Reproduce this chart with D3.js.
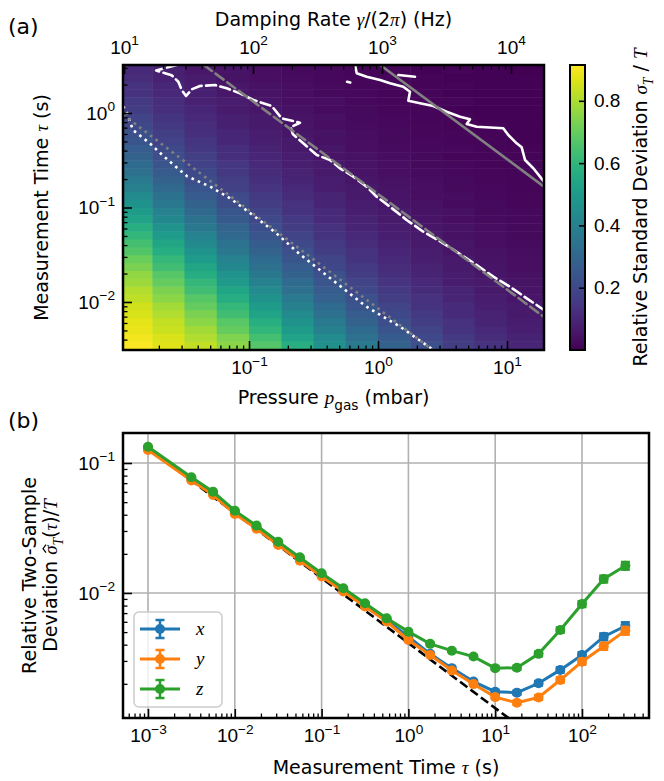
<!DOCTYPE html>
<html>
<head>
<meta charset="utf-8">
<script src="https://cdn.jsdelivr.net/npm/d3@7"></script>
<style>
body { margin: 0; background: #fff; }
svg { font-family: "DejaVu Sans", sans-serif; }
</style>
</head>
<body>
<div id="chart"></div>
<script>

// ---------------- data: panel (a) ----------------
// pressure bins (mbar) and measurement time bins (s) of the map
var pressureEdges = [0.01, 0.0178, 0.0316, 0.0562, 0.1, 0.178, 0.316, 0.562, 1, 1.78, 3.16, 5.62, 10, 20];
var tauEdges = [0.003162, 0.003831, 0.004642, 0.005623, 0.006813, 0.008254, 0.01, 0.01212, 0.01468,
    0.01778, 0.02154, 0.0261, 0.03162, 0.03831, 0.04642, 0.05623, 0.06813, 0.08254, 0.1, 0.1212,
    0.1468, 0.1778, 0.2154, 0.261, 0.3162, 0.3831, 0.4642, 0.5623, 0.6813, 0.8254, 1, 1.212, 1.468,
    1.778, 2.154, 2.61, 3.162];

// relative standard deviation, one row per pressure bin, short tau -> long tau
var relStd = [
    [.908,.899,.884,.877,.860,.848,.825,.810,.782,.763,.730,.706,.668,.642,.601,.574,.531,.503,.462,.436,.396,.372,.337,.315,.283,.265,.237,.222,.197,.185,.163,.155,.135,.129,.112,.107],
    [.872,.864,.843,.830,.805,.788,.756,.736,.699,.675,.635,.608,.566,.538,.497,.469,.428,.403,.366,.343,.309,.289,.259,.243,.216,.203,.179,.169,.149,.141,.123,.117,.101,.097,.084,.080],
    [.831,.806,.788,.757,.736,.700,.675,.636,.608,.567,.538,.497,.469,.429,.403,.366,.343,.309,.289,.259,.243,.216,.203,.179,.169,.149,.141,.123,.117,.101,.097,.084,.080,.069,.067,.057],
    [.755,.738,.698,.677,.634,.610,.565,.540,.495,.471,.427,.405,.364,.345,.307,.291,.257,.245,.214,.205,.177,.171,.147,.143,.121,.119,.099,.099,.082,.082,.067,.069,.055,.057,.045,.048],
    [.670,.642,.603,.573,.532,.502,.463,.435,.397,.371,.338,.315,.284,.264,.238,.221,.198,.184,.164,.154,.136,.128,.112,.106,.093,.088,.076,.073,.063,.061,.051,.050,.043,.041,.035,.034],
    [.574,.531,.503,.462,.436,.396,.372,.337,.315,.283,.265,.237,.222,.197,.185,.163,.155,.135,.129,.112,.107,.092,.089,.076,.073,.063,.061,.051,.050,.043,.041,.035,.034,.029,.028,.024],
    [.461,.437,.395,.373,.336,.317,.282,.266,.236,.223,.196,.186,.162,.156,.134,.130,.110,.108,.091,.090,.074,.075,.061,.063,.049,.052,.041,.043,.033,.036,.027,.030,.022,.025,.018,.021],
    [.372,.337,.315,.283,.265,.237,.222,.197,.185,.163,.155,.135,.129,.112,.107,.092,.089,.076,.073,.063,.061,.051,.050,.043,.041,.035,.034,.029,.028,.024,.023,.020,.019,.016,.016,.013],
    [.284,.264,.238,.221,.198,.184,.164,.154,.136,.128,.112,.106,.093,.088,.076,.073,.063,.061,.051,.050,.043,.041,.035,.034,.029,.028,.024,.023,.020,.019,.016,.016,.013,.013,.011,.011],
    [.222,.197,.185,.163,.155,.135,.129,.112,.107,.092,.089,.076,.073,.063,.061,.051,.050,.043,.041,.035,.034,.029,.028,.024,.023,.020,.019,.016,.016,.013,.013,.011,.011,.009,.009,.007],
    [.161,.157,.133,.131,.110,.109,.090,.091,.074,.075,.061,.063,.049,.052,.041,.043,.033,.036,.027,.030,.022,.025,.018,.021,.014,.018,.011,.015,.009,.013,.007,.011,.005,.009,.004,.008],
    [.129,.112,.107,.092,.089,.076,.073,.063,.061,.051,.050,.043,.041,.035,.034,.029,.028,.024,.023,.020,.019,.016,.016,.013,.013,.011,.011,.009,.009,.007,.007,.006,.006,.005,.005,.004],
    [.093,.088,.076,.073,.063,.061,.051,.050,.043,.041,.035,.034,.029,.028,.024,.023,.020,.019,.016,.016,.013,.013,.011,.011,.009,.009,.007,.007,.006,.006,.005,.005,.004,.004,.004,.003]
];

// contour lines of the map, [log10 p, log10 tau]
var contourDotted = [[-1.977,0.07],[-1.95,0.02],[-1.93,-0.06],[-1.90,-0.18],[-1.77,-0.32],[-1.66,-0.46],
    [-1.48,-0.67],[-1.30,-0.78],[-1.15,-0.90],[-0.99,-1.06],[-0.79,-1.27],[-0.61,-1.49],[-0.35,-1.77],
    [-0.09,-2.05],[0.17,-2.26],[0.39,-2.47],[0.43,-2.508]];
var contourDashed = [[-1.56,0.508],[-1.72,0.45],[-1.60,0.40],[-1.548,0.331],[-1.522,0.243],[-1.488,0.180],
    [-1.444,0.251],[-1.380,0.286],[-1.264,0.296],[-1.173,0.261],[-1.070,0.208],[-0.967,0.138],[-0.824,0.074],
    [-0.747,-0.056],[-0.605,-0.103],[-0.677,-0.151],[-0.661,-0.222],[-0.579,-0.321],[-0.475,-0.444],
    [-0.372,-0.497],[-0.295,-0.585],[-0.191,-0.674],[-0.088,-0.780],[-0.010,-0.886],[0.093,-0.992],
    [0.222,-1.132],[0.351,-1.256],[0.506,-1.379],[0.636,-1.492],[0.765,-1.608],[0.894,-1.732],
    [1.023,-1.838],[1.153,-1.961],[1.287,-2.085]];
var contourSolid = [[-0.178,0.508],[-0.165,0.420],[-0.088,0.384],[0.016,0.349],[0.093,0.314],[0.196,0.278],
    [0.248,0.225],[0.235,0.130],[0.326,0.103],[0.429,0.074],[0.532,0.014],[0.636,-0.039],[0.713,-0.067],
    [0.688,-0.116],[0.765,-0.145],[0.971,-0.162],[1.010,-0.233],[1.075,-0.321],[1.114,-0.363],
    [1.140,-0.497],[1.204,-0.585],[1.287,-0.727]];
var contourSolidBits = [
    [[-0.240,0.330],[-0.215,0.322]],
    [[0.158,0.402],[0.287,0.384]]
];

// gamma*tau = const guides, [log10 p, log10 tau]
var guideDotted = [[-1.977,-0.017],[0.424,-2.508]];
var guideDashed = [[-1.35,0.508],[1.287,-2.158]];
var guideSolid  = [[0.017,0.508],[1.287,-0.78]];

var colorbarTicks = [0.2, 0.4, 0.6, 0.8];

// ---------------- data: panel (b) ----------------
var tauB = [0.001, 0.00316, 0.00562, 0.01, 0.0178, 0.0316, 0.0562, 0.1, 0.178, 0.316, 0.562,
            1, 1.78, 3.16, 5.62, 10, 17.8, 31.6, 56.2, 100, 178, 316];
var devX = [0.1289, 0.0750, 0.0581, 0.0415, 0.0319, 0.0240, 0.0182, 0.0137, 0.01050, 0.00806, 0.00617,
            0.00461, 0.00340, 0.00264, 0.00208, 0.00174, 0.00171, 0.00202, 0.00256, 0.00333, 0.00461, 0.00557];
var devY = [0.1259, 0.0733, 0.0567, 0.0406, 0.0312, 0.0234, 0.0177, 0.0134, 0.01025, 0.00787, 0.00603,
            0.00435, 0.00333, 0.00253, 0.00199, 0.00158, 0.00143, 0.00157, 0.00214, 0.00296, 0.00389, 0.00513];
var devZ = [0.1334, 0.0776, 0.0601, 0.0430, 0.0330, 0.0248, 0.0188, 0.0142, 0.01086, 0.00834, 0.00638,
            0.00504, 0.00406, 0.00360, 0.00324, 0.00264, 0.00266, 0.00340, 0.00519, 0.00822, 0.01282, 0.01622];
// relative error of the deviation
var relErr = [0.004, 0.005, 0.005, 0.006, 0.006, 0.007, 0.008, 0.009, 0.010, 0.012, 0.014,
              0.016, 0.019, 0.022, 0.026, 0.030, 0.035, 0.040, 0.046, 0.052, 0.060, 0.068];
var fitLine = [[0.001, 0.1305], [40, 0.00065]];
var seriesNames = ["x", "y", "z"];
var seriesColors = ["#1f77b4", "#ff7f0e", "#2ca02c"];

// ---------------- setup ----------------
var W = 664, H = 781;
var FS = 19;
var MATH = "'Liberation Serif', 'DejaVu Serif', serif";

var svg = d3.select("#chart").append("svg")
    .attr("width", W).attr("height", H);
svg.append("rect").attr("width", W).attr("height", H).attr("fill", "#fff");

// write mixed text: parts = [{t, it, sub, sup}]
function richText(sel, parts, fs) {
    var shift = 0;
    parts.forEach(function(p) {
        var target = p.sub ? 0.3 * fs : (p.sup ? -0.45 * fs : 0);
        var ts = sel.append("tspan").text(p.t);
        if (target != shift) ts.attr("dy", target - shift);
        shift = target;
        if (p.sub || p.sup) ts.attr("font-size", 0.72 * fs);
        if (p.it) ts.attr("font-family", MATH).attr("font-style", "italic");
    });
    return sel;
}

function expLabel(d) {
    var e = Math.round(Math.log10(d));
    return [{t: "10"}, {t: (e < 0 ? "\u2212" : "") + Math.abs(e), sup: true}];
}

function isPow10(d) {
    var e = Math.log10(d);
    return Math.abs(e - Math.round(e)) < 1e-6;
}

// inward log axis with major labels and minor ticks
function logAxis(g, scale, which, showLabels, pad) {
    var all = scale.ticks();
    var majors = all.filter(isPow10);
    var minors = all.filter(function(d) { return !isPow10(d); });
    var maker = {bottom: d3.axisBottom, top: d3.axisTop, left: d3.axisLeft, right: d3.axisRight}[which];

    var minorAxis = maker(scale).tickValues(minors).tickSize(-4.5).tickFormat("");
    var gm = g.append("g").call(minorAxis);
    gm.select(".domain").remove();
    gm.selectAll("line").attr("stroke-width", 1.3);

    var majorAxis = maker(scale).tickValues(majors).tickSize(-9).tickPadding(pad);
    var gM = g.append("g").call(majorAxis);
    gM.select(".domain").remove();
    gM.selectAll("line").attr("stroke-width", 1.6);
    gM.selectAll("text").attr("font-size", FS).attr("fill", "#000").attr("font-family", null);
    gM.selectAll(".tick text").each(function(d) {
        var t = d3.select(this).text(null);
        if (showLabels) richText(t, expLabel(d), FS);
    });
    return g;
}

// ---------------- panel (a) ----------------
var A = {left: 123, right: 544, top: 65, bottom: 350};
var xA = d3.scaleLog().domain([Math.pow(10, -1.977), Math.pow(10, 1.287)]).range([A.left, A.right]);
var yA = d3.scaleLog().domain([Math.pow(10, -2.508), Math.pow(10, 0.508)]).range([A.bottom, A.top]);
var xTop = d3.scaleLog().domain([Math.pow(10, 0.992), Math.pow(10, 4.256)]).range([A.left, A.right]);
var colour = d3.scaleSequential(d3.interpolateViridis).domain([0, 0.915]);

svg.append("clipPath").attr("id", "clipA").append("rect")
    .attr("x", A.left).attr("y", A.top).attr("width", A.right - A.left).attr("height", A.bottom - A.top);

var gA = svg.append("g").attr("clip-path", "url(#clipA)");

// map cells
var cells = [];
relStd.forEach(function(col, j) {
    col.forEach(function(v, i) {
        cells.push({p0: pressureEdges[j], p1: pressureEdges[j + 1], t0: tauEdges[i], t1: tauEdges[i + 1], v: v});
    });
});
gA.selectAll("rect.cell").data(cells).enter().append("rect")
    .attr("class", "cell")
    .attr("x", function(d) { return xA(d.p0); })
    .attr("y", function(d) { return yA(d.t1); })
    .attr("width", function(d) { return xA(d.p1) - xA(d.p0) + 0.5; })
    .attr("height", function(d) { return yA(d.t0) - yA(d.t1) + 0.5; })
    .attr("fill", function(d) { return colour(d.v); });

var lineA = d3.line()
    .x(function(d) { return xA(Math.pow(10, d[0])); })
    .y(function(d) { return yA(Math.pow(10, d[1])); });

function drawA(pts, col, dash) {
    gA.append("path").datum(pts)
        .attr("d", lineA)
        .attr("fill", "none")
        .attr("stroke", col)
        .attr("stroke-width", 2.6)
        .attr("stroke-dasharray", dash)
        .attr("stroke-linecap", dash == "2.6,4.2" ? "butt" : "round")
        .attr("stroke-linejoin", "round");
}
drawA(contourDotted, "#fff", "2.6,4.2");
drawA(contourDashed, "#fff", "10,4.5");
drawA(contourSolid, "#fff", null);
contourSolidBits.forEach(function(b) { drawA(b, "#fff", null); });
drawA(guideDotted, "#808080", "2.6,4.2");
drawA(guideDashed, "#808080", "10,4.5");
drawA(guideSolid, "#808080", null);

// axes
logAxis(svg.append("g").attr("transform", "translate(0," + A.bottom + ")"), xA, "bottom", true, 11);
logAxis(svg.append("g").attr("transform", "translate(" + A.left + ",0)"), yA, "left", true, 8);
logAxis(svg.append("g").attr("transform", "translate(0," + A.top + ")"), xTop, "top", true, 11);

svg.append("rect")
    .attr("x", A.left).attr("y", A.top).attr("width", A.right - A.left).attr("height", A.bottom - A.top)
    .attr("fill", "none").attr("stroke", "#000").attr("stroke-width", 2.5);

// axis names
richText(svg.append("text").attr("x", (A.left + A.right) / 2).attr("y", 404)
    .attr("text-anchor", "middle").attr("font-size", FS),
    [{t: "Pressure "}, {t: "p", it: true}, {t: "gas", sub: true}, {t: " (mbar)"}], FS);
richText(svg.append("text").attr("x", (A.left + A.right) / 2).attr("y", 26)
    .attr("text-anchor", "middle").attr("font-size", FS),
    [{t: "Damping Rate "}, {t: "\u03b3", it: true}, {t: "/(2"}, {t: "\u03c0", it: true}, {t: ") (Hz)"}], FS);
richText(svg.append("text")
    .attr("transform", "translate(48," + (A.top + A.bottom) / 2 + ") rotate(-90)")
    .attr("text-anchor", "middle").attr("font-size", FS),
    [{t: "Measurement Time "}, {t: "\u03c4", it: true}, {t: " (s)"}], FS);

// colour bar
var cb = {left: 570, right: 585};
var cbY = d3.scaleLinear().domain([0, 0.915]).range([A.bottom, A.top]);
var grad = svg.append("defs").append("linearGradient").attr("id", "viridisGrad")
    .attr("x1", 0).attr("x2", 0).attr("y1", 1).attr("y2", 0);
grad.selectAll("stop").data(d3.range(0, 1.0001, 0.05)).enter().append("stop")
    .attr("offset", function(d) { return d; })
    .attr("stop-color", function(d) { return colour(d * 0.915); });
svg.append("rect")
    .attr("x", cb.left).attr("y", A.top).attr("width", cb.right - cb.left).attr("height", A.bottom - A.top)
    .attr("fill", "url(#viridisGrad)").attr("stroke", "#000").attr("stroke-width", 2);
var cbAxis = d3.axisRight(cbY).tickValues(colorbarTicks).tickSize(-6).tickPadding(9).tickFormat(d3.format(".1f"));
var gcb = svg.append("g").attr("transform", "translate(" + cb.right + ",0)").call(cbAxis);
gcb.select(".domain").remove();
gcb.selectAll("line").attr("stroke-width", 1.6);
gcb.selectAll("text").attr("font-size", FS).attr("font-family", null).attr("fill", "#000");
richText(svg.append("text")
    .attr("transform", "translate(647," + (A.top + A.bottom) / 2 + ") rotate(-90)")
    .attr("text-anchor", "middle").attr("font-size", FS),
    [{t: "Relative Standard Deviation "}, {t: "\u03c3", it: true}, {t: "T", it: true, sub: true},
     {t: " / "}, {t: "T", it: true}], FS);

svg.append("text").attr("x", 8).attr("y", 34).attr("font-size", 22).text("(a)");

// ---------------- panel (b) ----------------
var B = {left: 123, right: 649, top: 433, bottom: 718};
var xB = d3.scaleLog().domain([Math.pow(10, -3.288), Math.pow(10, 2.772)]).range([B.left, B.right]);
var yB = d3.scaleLog().domain([Math.pow(10, -2.962), Math.pow(10, -0.769)]).range([B.bottom, B.top]);

svg.append("clipPath").attr("id", "clipB").append("rect")
    .attr("x", B.left).attr("y", B.top).attr("width", B.right - B.left).attr("height", B.bottom - B.top);
var gB = svg.append("g").attr("clip-path", "url(#clipB)");

// grid
gB.selectAll("line.gx").data(xB.ticks().filter(isPow10)).enter().append("line")
    .attr("x1", function(d) { return xB(d); }).attr("x2", function(d) { return xB(d); })
    .attr("y1", B.top).attr("y2", B.bottom)
    .attr("stroke", "#b0b0b0").attr("stroke-width", 1.6);
gB.selectAll("line.gy").data(yB.ticks().filter(isPow10)).enter().append("line")
    .attr("y1", function(d) { return yB(d); }).attr("y2", function(d) { return yB(d); })
    .attr("x1", B.left).attr("x2", B.right)
    .attr("stroke", "#b0b0b0").attr("stroke-width", 1.6);

// tau^-1/2 reference
gB.append("path").datum(fitLine)
    .attr("d", d3.line().x(function(d) { return xB(d[0]); }).y(function(d) { return yB(d[1]); }))
    .attr("fill", "none").attr("stroke", "#000").attr("stroke-width", 2.6).attr("stroke-dasharray", "9,4");

var series = [devX, devY, devZ].map(function(vals, k) {
    return {name: seriesNames[k], colour: seriesColors[k],
        pts: vals.map(function(v, i) { return {t: tauB[i], v: v, e: v * relErr[i]}; })};
});

var lineB = d3.line().x(function(d) { return xB(d.t); }).y(function(d) { return yB(d.v); });

series.forEach(function(s) {
    var gs = gB.append("g");
    gs.append("path").datum(s.pts).attr("d", lineB)
        .attr("fill", "none").attr("stroke", s.colour).attr("stroke-width", 3);
    var eb = gs.selectAll("g.eb").data(s.pts).enter().append("g");
    eb.append("line")
        .attr("x1", function(d) { return xB(d.t); }).attr("x2", function(d) { return xB(d.t); })
        .attr("y1", function(d) { return yB(d.v - d.e); }).attr("y2", function(d) { return yB(d.v + d.e); })
        .attr("stroke", s.colour).attr("stroke-width", 2.5);
    [-1, 1].forEach(function(sg) {
        eb.append("line")
            .attr("x1", function(d) { return xB(d.t) - 4.5; }).attr("x2", function(d) { return xB(d.t) + 4.5; })
            .attr("y1", function(d) { return yB(d.v + sg * d.e); }).attr("y2", function(d) { return yB(d.v + sg * d.e); })
            .attr("stroke", s.colour).attr("stroke-width", 2.5);
    });
    gs.selectAll("circle").data(s.pts).enter().append("circle")
        .attr("cx", function(d) { return xB(d.t); }).attr("cy", function(d) { return yB(d.v); })
        .attr("r", 5).attr("fill", s.colour);
});

logAxis(svg.append("g").attr("transform", "translate(0," + B.bottom + ")"), xB, "bottom", true, 11);
logAxis(svg.append("g").attr("transform", "translate(" + B.left + ",0)"), yB, "left", true, 8);

svg.append("rect")
    .attr("x", B.left).attr("y", B.top).attr("width", B.right - B.left).attr("height", B.bottom - B.top)
    .attr("fill", "none").attr("stroke", "#000").attr("stroke-width", 2.5);

// legend
var leg = svg.append("g").attr("transform", "translate(134,612)");
leg.append("rect").attr("width", 88).attr("height", 95).attr("rx", 5)
    .attr("fill", "#fff").attr("fill-opacity", 0.8).attr("stroke", "#cccccc").attr("stroke-width", 1.5);
var li = leg.selectAll("g.li").data(series).enter().append("g")
    .attr("transform", function(d, i) { return "translate(0," + (17 + i * 30) + ")"; });
li.append("line").attr("x1", 6).attr("x2", 46).attr("stroke", function(d) { return d.colour; }).attr("stroke-width", 3);
li.append("line").attr("x1", 26).attr("x2", 26).attr("y1", -9).attr("y2", 9)
    .attr("stroke", function(d) { return d.colour; }).attr("stroke-width", 2.5);
li.append("line").attr("x1", 21.5).attr("x2", 30.5).attr("y1", -9).attr("y2", -9)
    .attr("stroke", function(d) { return d.colour; }).attr("stroke-width", 2.5);
li.append("line").attr("x1", 21.5).attr("x2", 30.5).attr("y1", 9).attr("y2", 9)
    .attr("stroke", function(d) { return d.colour; }).attr("stroke-width", 2.5);
li.append("circle").attr("cx", 26).attr("r", 5).attr("fill", function(d) { return d.colour; });
li.append("text").attr("x", 62).attr("y", 6).attr("font-size", FS)
    .attr("font-family", MATH).attr("font-style", "italic")
    .text(function(d) { return d.name; });

// axis names
richText(svg.append("text").attr("x", (B.left + B.right) / 2).attr("y", 774)
    .attr("text-anchor", "middle").attr("font-size", FS),
    [{t: "Measurement Time "}, {t: "\u03c4", it: true}, {t: " (s)"}], FS);
var ylg = svg.append("g")
    .attr("transform", "translate(0," + (B.top + B.bottom) / 2 + ") rotate(-90)");
ylg.append("text").attr("x", 0).attr("y", 36)
    .attr("text-anchor", "middle").attr("font-size", FS).text("Relative Two-Sample");
var yl2 = ylg.append("text").attr("x", 0).attr("y", 57)
    .attr("text-anchor", "middle").attr("font-size", FS);
richText(yl2, [{t: "Deviation "}, {t: "\u03c3", it: true}, {t: "T", it: true, sub: true},
    {t: "("}, {t: "\u03c4", it: true}, {t: ")/"}, {t: "T", it: true}], FS);
// hat over sigma
var ext = yl2.node().getExtentOfChar(10);
var hx = ext.x + ext.width / 2 + 1.5, hy = ext.y + 3;
ylg.append("path")
    .attr("d", "M" + (hx - 4) + "," + (hy + 3) + "L" + hx + "," + hy + "L" + (hx + 4) + "," + (hy + 3))
    .attr("fill", "none").attr("stroke", "#000").attr("stroke-width", 1.2);

svg.append("text").attr("x", 8).attr("y", 428).attr("font-size", 22).text("(b)");

</script>
</body>
</html>
